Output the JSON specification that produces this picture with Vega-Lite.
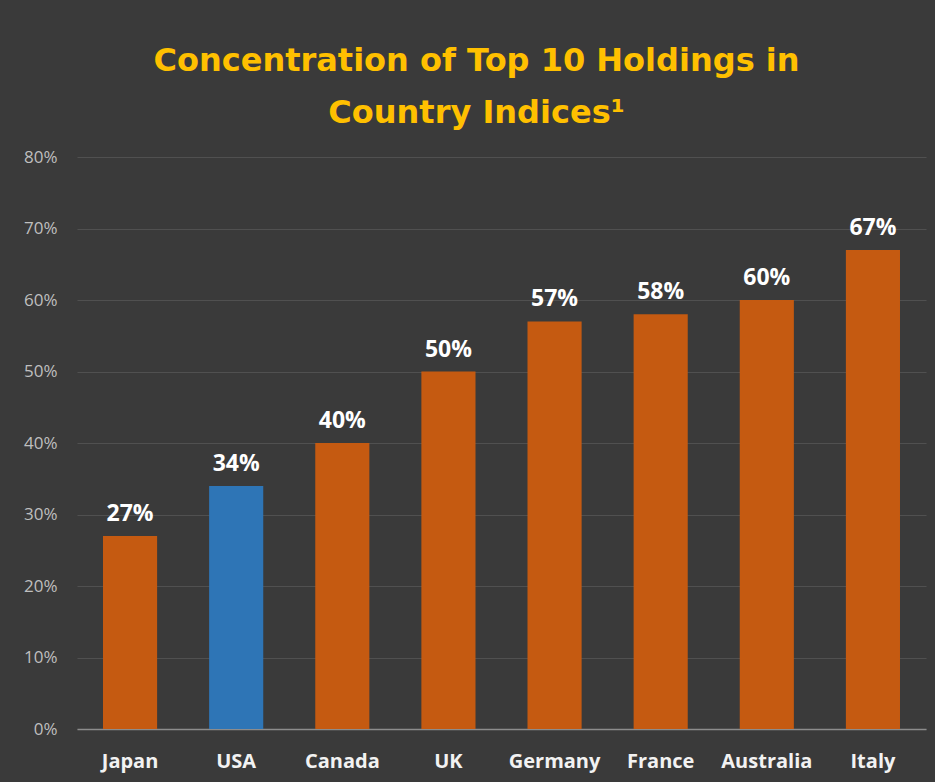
{
  "$schema": "https://vega.github.io/schema/vega-lite/v6.json",
  "width": 849,
  "height": 572,
  "autosize": {"type": "none"},
  "padding": {"left": 77, "top": 157, "right": 9, "bottom": 53},
  "background": "#3A3A3A",
  "title": {
    "text": ["Concentration of Top 10 Holdings in", "Country Indices¹"],
    "color": "#FFC000",
    "font": "DejaVu Sans",
    "fontSize": 32,
    "fontWeight": "bold",
    "lineHeight": 52,
    "anchor": "middle",
    "dx": -25,
    "offset": 18
  },
  "data": {
    "values": [
      {"country": "Japan", "value": 0.27, "highlight": "other"},
      {"country": "USA", "value": 0.34, "highlight": "usa"},
      {"country": "Canada", "value": 0.40, "highlight": "other"},
      {"country": "UK", "value": 0.50, "highlight": "other"},
      {"country": "Germany", "value": 0.57, "highlight": "other"},
      {"country": "France", "value": 0.58, "highlight": "other"},
      {"country": "Australia", "value": 0.60, "highlight": "other"},
      {"country": "Italy", "value": 0.67, "highlight": "other"}
    ]
  },
  "encoding": {
    "x": {
      "field": "country",
      "type": "nominal",
      "sort": null,
      "scale": {"paddingInner": 0.49, "paddingOuter": 0.245},
      "axis": {
        "title": null,
        "labelAngle": 0,
        "labelColor": "#F2F2F2",
        "labelFont": "Open Sans",
        "labelFontSize": 20,
        "labelFontWeight": "bold",
        "labelPadding": 22,
        "ticks": false,
        "domainColor": "#8C8C8C",
        "domainWidth": 1.5
      }
    },
    "y": {
      "field": "value",
      "type": "quantitative",
      "scale": {"domain": [0, 0.8]},
      "axis": {
        "title": null,
        "format": ".0%",
        "values": [0, 0.1, 0.2, 0.3, 0.4, 0.5, 0.6, 0.7, 0.8],
        "labelOverlap": false,
        "labelColor": "#BFBFBF",
        "labelFont": "Open Sans",
        "labelFontSize": 17,
        "labelPadding": 20,
        "ticks": false,
        "domain": false,
        "gridColor": "#505050",
        "gridWidth": 1
      }
    }
  },
  "layer": [
    {
      "mark": {"type": "bar"},
      "encoding": {
        "color": {
          "field": "highlight",
          "type": "nominal",
          "scale": {"domain": ["other", "usa"], "range": ["#C55A11", "#2E75B6"]},
          "legend": null
        }
      }
    },
    {
      "mark": {
        "type": "text",
        "baseline": "bottom",
        "dy": -10,
        "color": "#FFFFFF",
        "font": "Open Sans",
        "fontSize": 23,
        "fontWeight": "bold"
      },
      "encoding": {
        "text": {"field": "value", "type": "quantitative", "format": ".0%"}
      }
    }
  ],
  "config": {"view": {"stroke": null}}
}
